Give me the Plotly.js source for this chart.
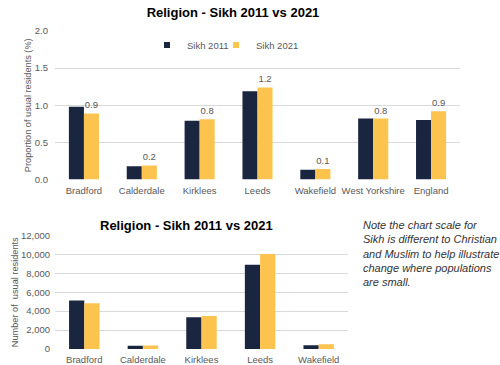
<!DOCTYPE html>
<html>
<head>
<meta charset="utf-8">
<script src="https://cdn.plot.ly/plotly-3.0.1.min.js"></script>
<style>html,body{margin:0;padding:0;background:#fff;}#chart{width:500px;height:365px;}</style>
</head>
<body>
<div id="chart"></div>
<script>
// Top chart: proportion of usual residents (%)
const pctCategories = ["Bradford", "Calderdale", "Kirklees", "Leeds", "Wakefield", "West Yorkshire", "England"];
const pct2011 = [0.98, 0.18, 0.79, 1.19, 0.13, 0.82, 0.80];
const pct2021 = [0.89, 0.19, 0.81, 1.24, 0.14, 0.82, 0.92];
const pct2021Labels = ["0.9", "0.2", "0.8", "1.2", "0.1", "0.8", "0.9"];

// Bottom chart: number of usual residents
const numCategories = ["Bradford", "Calderdale", "Kirklees", "Leeds", "Wakefield"];
const num2011 = [5140, 350, 3350, 8920, 400];
const num2021 = [4830, 380, 3500, 10050, 510];

const seriesNames = ["Sikh 2011", "Sikh 2021"];
const chartTitle = "Religion - Sikh 2011 vs 2021";
const noteText = "Note the chart scale for<br>Sikh is different to Christian<br>and Muslim to help illustrate<br>change where populations<br>are small.";

const navy = "#1a2540";
const gold = "#fcc34f";
const FONT = "Liberation Sans, Arial, sans-serif";
const tickColor = "#595959";
const gridColor = "#d9d9d9";

const traces = [
  {type: "bar", name: seriesNames[0], x: pctCategories, y: pct2011, xaxis: "x", yaxis: "y",
   marker: {color: navy}, showlegend: false, hoverinfo: "skip"},
  {type: "bar", name: seriesNames[1], x: pctCategories, y: pct2021, xaxis: "x", yaxis: "y",
   marker: {color: gold}, text: pct2021Labels, textposition: "outside", cliponaxis: false,
   textfont: {family: FONT, size: 9.5, color: tickColor}, showlegend: false, hoverinfo: "skip"},
  {type: "bar", name: seriesNames[0], x: numCategories, y: num2011, xaxis: "x2", yaxis: "y2",
   marker: {color: navy}, showlegend: false, hoverinfo: "skip"},
  {type: "bar", name: seriesNames[1], x: numCategories, y: num2021, xaxis: "x2", yaxis: "y2",
   marker: {color: gold}, showlegend: false, hoverinfo: "skip"},
  // legend entries with small square keys
  {type: "scatter", mode: "markers", name: seriesNames[0], x: [null], y: [null], xaxis: "x", yaxis: "y",
   marker: {color: navy, symbol: "square", size: 6}, legend: "legend", hoverinfo: "skip"},
  {type: "scatter", mode: "markers", name: seriesNames[1], x: [null], y: [null], xaxis: "x", yaxis: "y",
   marker: {color: gold, symbol: "square", size: 6}, legend: "legend2", hoverinfo: "skip"}
];

const axisTick = {family: FONT, size: 9.5, color: tickColor};
const axisTitleFont = {family: FONT, size: 9.2, color: tickColor};
const legendBase = {orientation: "h", xanchor: "left", y: 1 - 45/365, yanchor: "middle",
  font: {family: FONT, size: 9.5, color: tickColor}, itemwidth: 30, bgcolor: "rgba(0,0,0,0)"};

const layout = {
  width: 500, height: 365,
  margin: {l: 0, r: 0, t: 0, b: 0},
  paper_bgcolor: "#fff", plot_bgcolor: "#fff",
  font: {family: FONT},
  bargap: 0.48, bargroupgap: 0,
  title: {text: chartTitle, x: 0.466, xanchor: "center", xref: "paper", y: 1 - 12/365, yanchor: "middle",
          font: {family: FONT, size: 13, color: "#000", weight: "bold"}},
  xaxis: {domain: [0.11, 0.92], anchor: "y", tickfont: axisTick, showgrid: false, zeroline: false,
          showline: false, ticks: "", ticklabelstandoff: 4, fixedrange: true},
  yaxis: {domain: [185.5/365, 334/365], anchor: "x", range: [0, 2], dtick: 0.5, tickformat: ".1f",
          tickfont: axisTick, gridcolor: gridColor, gridwidth: 1, zeroline: false, showline: false,
          ticks: "", ticklabelstandoff: 6,
          title: {text: "Proportion of usual residents (%)", font: axisTitleFont, standoff: 1}},
  xaxis2: {domain: [0.11, 0.696], anchor: "y2", tickfont: axisTick, showgrid: false, zeroline: false,
           showline: false, ticks: "", ticklabelstandoff: 3},
  yaxis2: {domain: [16/365, 129.5/365], anchor: "x2", range: [0, 12000], dtick: 2000, tickformat: ",d",
           tickfont: axisTick, gridcolor: gridColor, gridwidth: 1, zeroline: false, showline: false,
           ticks: "", ticklabelstandoff: 4,
           title: {text: "Number of  usual residents", font: axisTitleFont, standoff: 0}},
  legend: Object.assign({}, legendBase, {x: 147/500}),
  legend2: Object.assign({}, legendBase, {x: 216/500}),
  annotations: [
    {text: chartTitle, xref: "paper", yref: "paper", x: 186/500, y: (365 - 225)/365,
     xanchor: "center", yanchor: "middle", showarrow: false,
     font: {family: FONT, size: 13, color: "#000", weight: "bold"}},
    {text: noteText, xref: "paper", yref: "paper", x: 361/500, y: (365 - 217)/365,
     xanchor: "left", yanchor: "top", align: "left", showarrow: false,
     font: {family: FONT, size: 11, color: "#333333", style: "italic"}}
  ]
};

Plotly.newPlot("chart", traces, layout, {staticPlot: true, displayModeBar: false});
</script>
</body>
</html>
